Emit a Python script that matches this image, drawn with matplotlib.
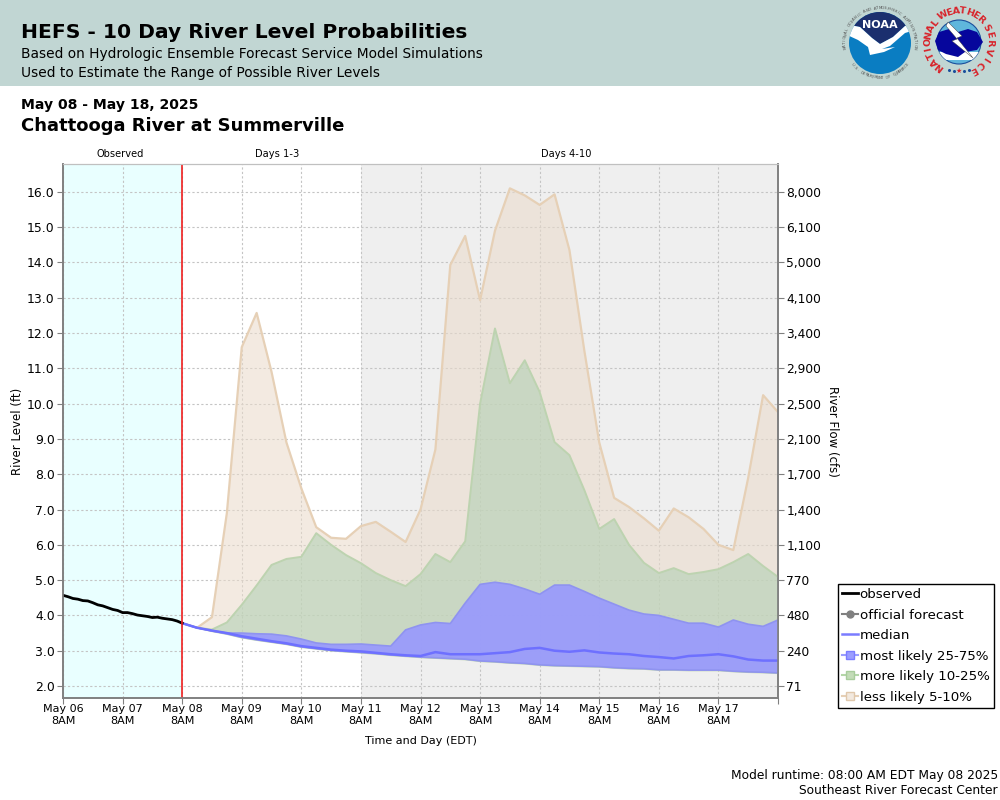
import matplotlib
matplotlib.use("Agg")

import numpy as np
import pandas as pd
import matplotlib.pyplot as plt
from matplotlib.lines import Line2D
from matplotlib.patches import Circle, Polygon, Rectangle

# stage values in ft
obs_hours = list(range(0, 50, 2))
obs_level = [4.57, 4.53, 4.48, 4.46, 4.42, 4.41, 4.36, 4.30, 4.27, 4.22, 4.17, 4.14, 4.08,
             4.08, 4.05, 4.01, 3.99, 3.97, 3.94, 3.95, 3.92, 3.90, 3.88, 3.84, 3.78]

# forecast is 6-hourly from May 08 8AM
less_top = [3.78, 3.65, 3.95, 6.9, 11.6, 12.57, 10.9, 8.9, 7.6, 6.5, 6.2, 6.17, 6.53, 6.65,
            6.37, 6.08, 7.0, 8.7, 13.93, 14.75, 12.93, 14.9, 16.1, 15.9, 15.63, 15.93, 14.35,
            11.5, 8.9, 7.33, 7.07, 6.75, 6.4, 7.03, 6.78, 6.45, 6.0, 5.85, 7.9, 10.24, 9.76]
more_top = [3.78, 3.65, 3.6, 3.8, 4.3, 4.85, 5.43, 5.6, 5.66, 6.33, 6.0, 5.71, 5.48, 5.2,
            5.0, 4.83, 5.17, 5.74, 5.51, 6.1, 10.0, 12.13, 10.58, 11.23, 10.33, 8.91, 8.54,
            7.55, 6.45, 6.73, 6.0, 5.49, 5.2, 5.34, 5.17, 5.23, 5.31, 5.51, 5.74, 5.4, 5.09]
likely_top = [3.78, 3.65, 3.57, 3.5, 3.5, 3.48, 3.47, 3.42, 3.33, 3.22, 3.18, 3.18, 3.19, 3.16,
              3.13, 3.59, 3.73, 3.8, 3.77, 4.35, 4.88, 4.94, 4.88, 4.75, 4.6, 4.86, 4.86,
              4.68, 4.49, 4.32, 4.15, 4.04, 4.0, 3.89, 3.78, 3.78, 3.67, 3.87, 3.75, 3.69, 3.87]
median = [3.78, 3.65, 3.57, 3.5, 3.41, 3.34, 3.27, 3.21, 3.13, 3.08, 3.03, 3.0, 2.98, 2.94,
          2.9, 2.87, 2.85, 2.96, 2.9, 2.9, 2.9, 2.93, 2.96, 3.05, 3.08, 3.0, 2.97,
          3.01, 2.95, 2.92, 2.9, 2.85, 2.82, 2.78, 2.85, 2.87, 2.9, 2.84, 2.75, 2.72, 2.72]
likely_low = [3.78, 3.65, 3.56, 3.48, 3.38, 3.31, 3.25, 3.19, 3.11, 3.06, 3.01, 2.98, 2.95, 2.92,
              2.88, 2.85, 2.82, 2.8, 2.78, 2.76, 2.71, 2.69, 2.66, 2.64, 2.6, 2.58, 2.57,
              2.56, 2.55, 2.52, 2.5, 2.49, 2.46, 2.46, 2.45, 2.45, 2.45, 2.42, 2.4, 2.39, 2.37]
low_5 = [3.78, 3.65, 3.55, 3.47, 3.37, 3.3, 3.24, 3.18, 3.1, 3.05, 3.0, 2.97, 2.94, 2.91,
         2.87, 2.84, 2.81, 2.79, 2.77, 2.75, 2.7, 2.68, 2.65, 2.63, 2.59, 2.57, 2.56,
         2.55, 2.54, 2.51, 2.49, 2.48, 2.45, 2.45, 2.44, 2.44, 2.44, 2.41, 2.39, 2.38, 2.36]

stage_ticks = [2.0, 3.0, 4.0, 5.0, 6.0, 7.0, 8.0, 9.0, 10.0, 11.0, 12.0, 13.0, 14.0, 15.0, 16.0]
flow_labels = ["71", "240", "480", "770", "1,100", "1,400", "1,700", "2,100", "2,500", "2,900",
               "3,400", "4,100", "5,000", "6,100", "8,000"]
day_labels = ["May 06", "May 07", "May 08", "May 09", "May 10", "May 11",
              "May 12", "May 13", "May 14", "May 15", "May 16", "May 17"]

HEADER = "#c1d6d3"
GRID = "#c4c4c4"
AXIS = "#808080"


def arc_text(ax, s, cx, cy, r, start, end, size, color, weight="normal", flip=False):
    # one letter at a time along a circle, angles in degrees (pixel axes, y down)
    angles = np.linspace(start, end, len(s))
    for ch, a in zip(s, angles):
        t = np.radians(a)
        rot = a + 90 if flip else a - 90
        ax.text(cx + r * np.cos(t), cy - r * np.sin(t), ch, fontsize=size, color=color,
                ha="center", va="center", rotation=rot, fontweight=weight)


def draw_logos(ax):
    # NOAA
    cx, cy = 880, 43
    disc = Circle((cx, cy), 31, fc="#0a7dc2", ec="none")
    ax.add_patch(disc)
    navy = Polygon([(845, 5), (915, 5), (915, 24), (905, 26), (893, 37), (880, 44), (872, 38), (860, 27), (845, 24)],
                   fc="#1b2f6e", ec="none")
    swoosh = Polygon([(845, 24), (860, 27), (872, 38), (880, 44), (893, 37), (905, 26), (915, 24), (915, 30), (905, 33),
                      (890, 46), (882, 49), (895, 47), (884, 52), (870, 55), (868, 47), (858, 40), (845, 34)],
                     fc="white", ec="none")
    ax.add_patch(navy)
    ax.add_patch(swoosh)
    navy.set_clip_path(disc)
    swoosh.set_clip_path(disc)
    ax.text(cx, 25, "NOAA", color="white", fontsize=8, fontweight="bold", ha="center", va="center")
    arc_text(ax, "NATIONAL OCEANIC AND ATMOSPHERIC ADMINISTRATION", cx, cy, 35, 188, -8, 2.8, "#555555")
    arc_text(ax, "U.S. DEPARTMENT OF COMMERCE", cx, cy, 35, 218, 322, 2.8, "#555555", flip=True)
    # NWS
    cx, cy = 959, 42
    disc = Circle((cx, cy), 22, fc="#5fb6dc", ec="#1b4f9c", lw=0.8)
    ax.add_patch(disc)
    band = Rectangle((cx - 22, 52), 44, 8, fc="white", ec="none")
    ax.add_patch(band)
    band.set_clip_path(disc)
    ax.add_patch(Polygon([(935, 41), (939, 32), (949, 29), (958, 32), (968, 29), (977, 32), (983, 42),
                          (977, 50), (965, 52), (958, 57), (946, 54), (938, 50)], fc="#06069c", ec="none"))
    ax.add_patch(Polygon([(948, 22), (962, 36), (957, 38), (973, 58), (952, 41), (957, 39), (946, 26)],
                         fc="white", ec="#333333", lw=0.3))
    arc_text(ax, "NATIONAL", cx, cy, 31, 231, 142, 6.8, "#d8232a", "bold")
    arc_text(ax, "WEATHER", cx, cy, 31, 120, 46, 6.8, "#d8232a", "bold")
    arc_text(ax, "SERVICE", cx, cy, 31, 28, -62, 6.8, "#d8232a", "bold")
    ax.text(cx, 71, "\u2605", color="#d8232a", fontsize=5, ha="center", va="center")
    ax.plot([949, 954, 964, 969], [70, 71, 71, 70], ls="none", marker="o", ms=1.2, color="#1b4f9c")


fig = plt.figure(figsize=(10, 8), dpi=100)

# page furniture in pixel coordinates
bg = fig.add_axes([0, 0, 1, 1], zorder=0)
bg.set_xlim(0, 1000)
bg.set_ylim(800, 0)
bg.axis("off")
bg.add_patch(Rectangle((0, 0), 1000, 86, fc=HEADER, ec="none"))
bg.text(21, 33, "HEFS - 10 Day River Level Probabilities", fontsize=14.6, fontweight="bold", va="center")
bg.text(21, 54, "Based on Hydrologic Ensemble Forecast Service Model Simulations", fontsize=9.86, va="center")
bg.text(21, 73, "Used to Estimate the Range of Possible River Levels", fontsize=9.86, va="center")
bg.text(21, 105, "May 08 - May 18, 2025", fontsize=10.05, fontweight="bold", va="center")
bg.text(21, 126, "Chattooga River at Summerville", fontsize=12.95, fontweight="bold", va="center")
bg.text(998, 775, "Model runtime: 08:00 AM EDT May 08 2025", fontsize=8.8, ha="right", va="center")
bg.text(998, 791, "Southeast River Forecast Center", fontsize=8.8, ha="right", va="center")
draw_logos(bg)

ax = fig.add_axes([63 / 1000, 1 - 698 / 800, 715 / 1000, 534 / 800], zorder=2)

start = pd.Timestamp("2025-05-06 08:00")
fc_start = pd.Timestamp("2025-05-08 08:00")
day4 = pd.Timestamp("2025-05-11 08:00")
end = pd.Timestamp("2025-05-18 08:00")
fc_times = pd.date_range(fc_start, periods=len(median), freq="6h")
obs_times = start + pd.to_timedelta(obs_hours, unit="h")

ax.axvspan(start, fc_start, color="#e9ffff", lw=0, zorder=0)
ax.axvspan(day4, end, color="#efefef", lw=0, zorder=0)
ax.grid(True, color=GRID, ls=(0, (2, 2)), lw=0.8, zorder=1)
ax.set_axisbelow(True)

ax.fill_between(fc_times, low_5, less_top, facecolor="#eadbcb", alpha=0.56, lw=0, zorder=2)
ax.plot(fc_times, less_top, color="#e6d0b6", lw=1.6, zorder=2.1)
ax.fill_between(fc_times, low_5, more_top, facecolor="#b3d0b4", alpha=0.6, lw=0, zorder=3)
ax.plot(fc_times, more_top, color="#bdd3b0", lw=1.4, zorder=3.1)
ax.plot(fc_times, low_5, color="#bdd3b0", lw=1.2, zorder=3.1)
ax.fill_between(fc_times, likely_low, likely_top, facecolor="#9798ff", alpha=0.9, lw=0, zorder=4)
ax.plot(fc_times, likely_top, color="#8f93f0", lw=1.2, zorder=4.1)
ax.plot(fc_times, likely_low, color="#8f93f0", lw=1.2, zorder=4.1)
ax.plot(fc_times, median, color="#6e70ff", lw=1.8, zorder=5)
ax.plot(obs_times, obs_level, color="black", lw=2, zorder=6)
ax.axvline(fc_start, color="#f02020", lw=1.2, zorder=7)

ax.set_xlim(start, end)
ax.set_ylim(1.66, 16.79)
day_ticks = pd.date_range(start, periods=len(day_labels) + 1, freq="D")
ax.set_xticks(day_ticks)
ax.set_xticklabels([d + "\n8AM" for d in day_labels] + [""], fontsize=8, linespacing=1.3)
ax.set_yticks(stage_ticks)
ax.set_yticklabels(["%.1f" % v for v in stage_ticks], fontsize=8.9)
ax.tick_params(axis="x", color=AXIS, length=4, width=0.8, pad=0)
ax.tick_params(axis="y", color=AXIS, length=4, width=0.8, pad=2)
ax.set_xlabel("Time and Day (EDT)", fontsize=8, labelpad=7)
ax.set_ylabel("River Level (ft)", fontsize=8.5, va="center")
ax.yaxis.set_label_coords((18 - 63) / 715, 0.5)

rax = ax.twinx()
rax.set_ylim(ax.get_ylim())
rax.set_yticks(stage_ticks)
rax.set_yticklabels(flow_labels, fontsize=8.8)
rax.tick_params(axis="y", color=AXIS, length=4, width=0.8, pad=2)
rax.set_ylabel("River Flow (cfs)", fontsize=8.5, rotation=270, va="center")
rax.yaxis.set_label_coords((832 - 63) / 715, 0.5)

for a in (ax, rax):
    a.spines["top"].set_color("#c0c0c0")
    a.spines["left"].set_color(AXIS)
    a.spines["bottom"].set_color(AXIS)
    a.spines["right"].set_color(AXIS)
    a.spines["left"].set_linewidth(1.2)
    a.spines["bottom"].set_linewidth(1.2)
    a.spines["right"].set_linewidth(1.2)

bg.text(120, 154, "Observed", fontsize=7.1, ha="center", va="center")
bg.text(277, 154, "Days 1-3", fontsize=7.1, ha="center", va="center")
bg.text(566, 154, "Days 4-10", fontsize=7.1, ha="center", va="center")

handles = [
    Line2D([], [], color="black", lw=2),
    Line2D([], [], color="#808080", lw=1.5, marker="o", ms=5),
    Line2D([], [], color="#7a7cff", lw=1.8),
    Line2D([], [], color="#9a9dff", lw=1.5, marker="s", ms=5.5, mfc="#9a9dff", mec="#7a7cff"),
    Line2D([], [], color="#b4d6a8", lw=1.5, marker="s", ms=5.5, mfc="#c3dcb8", mec="#a8cc9c"),
    Line2D([], [], color="#e6d0b6", lw=1.5, marker="s", ms=5.5, mfc="#f2e9df", mec="#e0c8ac"),
]
labels = ["observed", "official forecast", "median", "most likely 25-75%", "more likely 10-25%", "less likely 5-10%"]
leg = fig.legend(handles, labels, loc="upper left", bbox_to_anchor=(838 / 1000, 1 - 584 / 800),
                 fontsize=9.65, frameon=True, fancybox=False, edgecolor="black", framealpha=1,
                 handlelength=1.2, handletextpad=0.12, labelspacing=0.56, borderpad=0.3, borderaxespad=0)
leg.get_frame().set_linewidth(1)

fig.savefig("out.png", dpi=100)
